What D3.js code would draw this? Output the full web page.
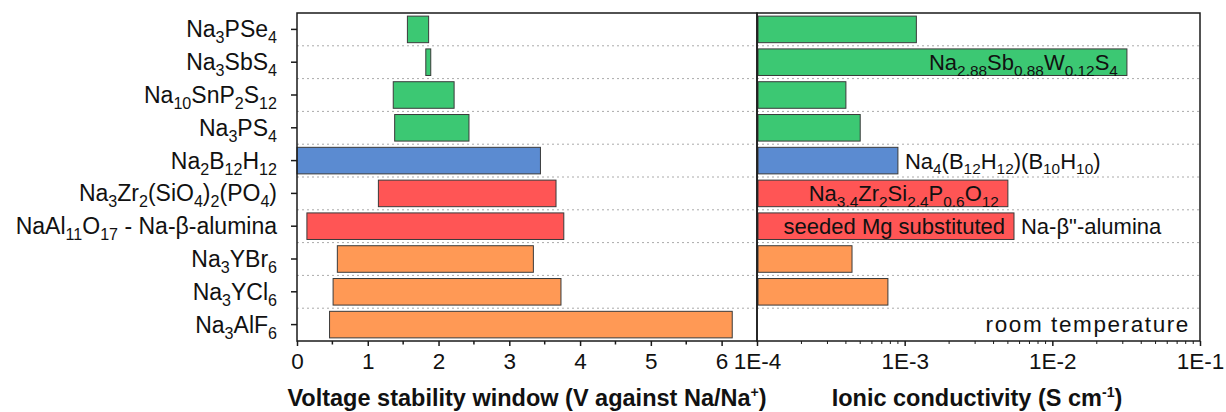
<!DOCTYPE html>
<html lang="en">
<head>
    <meta charset="UTF-8">
    <title>Sodium solid electrolytes</title>
    <style>
        *{
            margin: 0;
            padding: 0;
        }
        body{
            background: #fff;
        }
        svg text{
            font-family: "Liberation Sans", Arial, sans-serif;
            fill: #111;
        }
    </style>
</head>
<body>
<svg id="chart" width="1226" height="412"></svg>
</body>
</html>
<script src="https://cdn.jsdelivr.net/npm/d3@7"></script>
<script>
    /* _x = subscript, ^x = superscript */
    var materials = [
        "Na_3PSe_4", "Na_3SbS_4", "Na_10SnP_2S_12", "Na_3PS_4", "Na_2B_12H_12",
        "Na_3Zr_2(SiO_4)_2(PO_4)", "NaAl_11O_17 - Na-β-alumina",
        "Na_3YBr_6", "Na_3YCl_6", "Na_3AlF_6"
    ];
    var family = ["sulfide", "sulfide", "sulfide", "sulfide", "hydride",
        "oxide", "oxide", "halide", "halide", "halide"];
    /* voltage window, V vs Na/Na+ */
    var vLow  = [1.56, 1.82, 1.36, 1.38, 0.00, 1.15, 0.14, 0.57, 0.51, 0.46];
    var vHigh = [1.86, 1.89, 2.22, 2.43, 3.44, 3.66, 3.77, 3.34, 3.73, 6.15];
    /* room temperature ionic conductivity, S/cm */
    var sigma = [1.2e-3, 3.2e-2, 4.0e-4, 5.0e-4, 9.0e-4, 5.0e-3, 5.5e-3, 4.4e-4, 7.7e-4, null];
    var voltTicks = [0, 1, 2, 3, 4, 5, 6];
    var condTicks = [1e-4, 1e-3, 1e-2, 1e-1];
    var condTickLabels = ["1E-4", "1E-3", "1E-2", "1E-1"];
    var notes = [
        {row: 1, text: "Na_2.88Sb_0.88W_0.12S_4", inside: true},
        {row: 4, text: "Na_4(B_12H_12)(B_10H_10)", inside: false},
        {row: 5, text: "Na_3.4Zr_2Si_2.4P_0.6O_12", inside: true},
        {row: 6, text: "seeded Mg substituted", inside: true},
        {row: 6, text: "Na-β\"-alumina", inside: false}
    ];

    drawChart();

    function drawChart() {
        var colors = {sulfide: "#3cc873", hydride: "#5b8bd1", oxide: "#ff5555", halide: "#ff9955"};
        var fsLabel = 23, fsTick = 22.5, fsNote = 22, fsTitle = 23.5;

        var svg = d3.select("#chart");
        var plotTop = 13, plotBottom = 341;

        var xV = d3.scaleLinear().domain([0, 6.5]).range([297, 757]);
        var xC = d3.scaleLog().domain([1e-4, 1e-1]).range([757, 1200]);
        var y = d3.scaleBand().domain(d3.range(materials.length)).range([plotTop, plotBottom])
            .paddingInner(0.19).paddingOuter(0.095);

        /* write a label with sub/superscripts as tspans */
        function rich(textSel, str, size) {
            var parts = str.split(/([_^][0-9.+\-]+)/);
            var shift = 0;
            parts.forEach(function (p) {
                if (!p) return;
                var target = 0, s = size, t = p;
                if (p[0] == "_") { target = size * 0.26; s = size * 0.7; t = p.slice(1); }
                else if (p[0] == "^") { target = -size * 0.4; s = size * 0.6; t = p.slice(1); }
                textSel.append("tspan")
                    .attr("dy", target - shift)
                    .attr("font-size", s)
                    .text(t);
                shift = target;
            });
        }

        /* dotted separators between rows */
        var seps = d3.range(1, materials.length).map(function (i) {
            return y(i) - y.step() * y.paddingInner() / 2;
        });
        svg.append("g").selectAll("line").data(seps).enter().append("line")
            .attr("x1", 297).attr("x2", 1200)
            .attr("y1", function (d) { return d; }).attr("y2", function (d) { return d; })
            .attr("stroke", "#aaa").attr("stroke-width", 1).attr("stroke-dasharray", "2,3");

        /* voltage bars */
        svg.append("g").selectAll("rect").data(materials).enter().append("rect")
            .attr("x", function (d, i) { return xV(vLow[i]); })
            .attr("y", function (d, i) { return y(i); })
            .attr("width", function (d, i) { return xV(vHigh[i]) - xV(vLow[i]); })
            .attr("height", y.bandwidth())
            .attr("fill", function (d, i) { return colors[family[i]]; })
            .attr("stroke", "#3a3a3a").attr("stroke-width", 1);

        /* conductivity bars */
        var condRows = d3.range(materials.length).filter(function (i) { return sigma[i] != null; });
        svg.append("g").selectAll("rect").data(condRows).enter().append("rect")
            .attr("x", xC(1e-4) + 1)
            .attr("y", function (i) { return y(i); })
            .attr("width", function (i) { return xC(sigma[i]) - xC(1e-4) - 1; })
            .attr("height", y.bandwidth())
            .attr("fill", function (i) { return colors[family[i]]; })
            .attr("stroke", "#3a3a3a").attr("stroke-width", 1);

        /* annotations on the conductivity side */
        notes.forEach(function (n) {
            var end = xC(sigma[n.row]);
            var t = svg.append("text")
                .attr("x", n.inside ? end - 9 : end + 7)
                .attr("y", y(n.row) + y.bandwidth() / 2 + 8)
                .attr("text-anchor", n.inside ? "end" : "start")
                .attr("font-size", fsNote);
            rich(t, n.text, fsNote);
        });
        svg.append("text").attr("x", 1190).attr("y", 332)
            .attr("text-anchor", "end").attr("font-size", 22.5)
            .attr("letter-spacing", 1.6)
            .text("room temperature");

        /* frames */
        svg.append("rect").attr("x", 297).attr("y", plotTop).attr("width", 460).attr("height", plotBottom - plotTop)
            .attr("fill", "none").attr("stroke", "#1a1a1a").attr("stroke-width", 1.5);
        svg.append("rect").attr("x", 757).attr("y", plotTop).attr("width", 443).attr("height", plotBottom - plotTop)
            .attr("fill", "none").attr("stroke", "#1a1a1a").attr("stroke-width", 1.5);

        /* y axis labels */
        var yAx = svg.append("g").attr("transform", "translate(297,0)")
            .call(d3.axisLeft(y).tickSize(6).tickSizeOuter(0).tickFormat(""));
        yAx.select(".domain").remove();
        yAx.selectAll("line").attr("stroke", "#1a1a1a").attr("stroke-width", 1.5);
        yAx.selectAll(".tick text").remove();
        yAx.selectAll(".tick").each(function (i) {
            var t = d3.select(this).append("text")
                .attr("x", -20).attr("y", 8)
                .attr("text-anchor", "end").attr("font-size", fsLabel)
                .style("fill", "#111");
            rich(t, materials[i], fsLabel);
        });

        /* voltage x axis */
        var xAxV = svg.append("g").attr("transform", "translate(0," + plotBottom + ")")
            .call(d3.axisBottom(xV).tickValues(voltTicks).tickSize(5).tickSizeOuter(0).tickPadding(7)
                .tickFormat(d3.format("d")));
        xAxV.select(".domain").remove();
        xAxV.selectAll("line").attr("stroke", "#1a1a1a").attr("stroke-width", 1.5);
        xAxV.selectAll("text").attr("font-size", fsTick).style("font-family", "Liberation Sans, Arial, sans-serif").style("fill", "#111");
        svg.append("g").selectAll("line").data([0.5, 1.5, 2.5, 3.5, 4.5, 5.5]).enter().append("line")
            .attr("x1", function (d) { return xV(d); }).attr("x2", function (d) { return xV(d); })
            .attr("y1", plotBottom).attr("y2", plotBottom + 3.5)
            .attr("stroke", "#1a1a1a").attr("stroke-width", 1.5);

        /* conductivity x axis */
        var xAxC = svg.append("g").attr("transform", "translate(0," + plotBottom + ")")
            .call(d3.axisBottom(xC).tickValues(condTicks).tickSize(5).tickSizeOuter(0).tickPadding(7)
                .tickFormat(function (d, i) { return condTickLabels[i]; }));
        xAxC.select(".domain").remove();
        xAxC.selectAll("line").attr("stroke", "#1a1a1a").attr("stroke-width", 1.5);
        xAxC.selectAll("text").attr("font-size", fsTick).style("font-family", "Liberation Sans, Arial, sans-serif").style("fill", "#111");
        var minorC = xC.ticks().filter(function (d) {
            return condTicks.every(function (c) { return Math.abs(c - d) / c > 1e-6; });
        });
        svg.append("g").selectAll("line").data(minorC).enter().append("line")
            .attr("x1", function (d) { return xC(d); }).attr("x2", function (d) { return xC(d); })
            .attr("y1", plotBottom).attr("y2", plotBottom + 3)
            .attr("stroke", "#1a1a1a").attr("stroke-width", 1);

        /* axis titles */
        var t1 = svg.append("text").attr("x", 527).attr("y", 406)
            .attr("text-anchor", "middle").attr("font-size", fsTitle).attr("font-weight", "bold");
        rich(t1, "Voltage stability window (V against Na/Na^+)", fsTitle);
        var t2 = svg.append("text").attr("x", 977).attr("y", 406)
            .attr("text-anchor", "middle").attr("font-size", fsTitle).attr("font-weight", "bold");
        rich(t2, "Ionic conductivity (S cm^-1)", fsTitle);
    }
</script>
